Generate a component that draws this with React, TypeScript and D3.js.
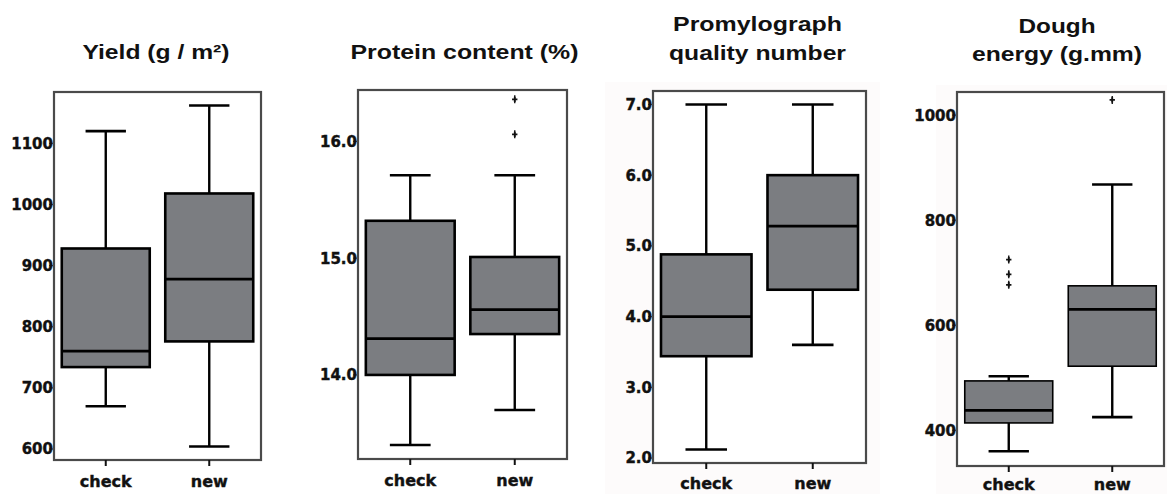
import React, { useEffect, useRef } from "react";
import * as d3 from "d3";

// ---------- data ----------
const categories = ["check", "new"];

// [lower whisker, Q1, median, Q3, upper whisker] for check, new
const yieldStats = [
  [670, 734, 760, 928, 1120],
  [604, 776, 878, 1018, 1162],
];
const yieldOutliers = [[], []];
const yieldTicks = [600, 700, 800, 900, 1000, 1100];

const proteinStats = [
  [13.4, 14.0, 14.31, 15.32, 15.71],
  [13.7, 14.35, 14.56, 15.01, 15.71],
];
const proteinOutliers = [[], [16.06, 16.36]];
const proteinTicks = [14, 15, 16];

const promyloStats = [
  [2.12, 3.44, 4.0, 4.88, 7.0],
  [3.6, 4.38, 5.28, 6.0, 7.0],
];
const promyloOutliers = [[], []];
const promyloTicks = [2, 3, 4, 5, 6, 7];

const doughStats = [
  [360, 414, 438, 494, 503],
  [425, 522, 630, 675, 868],
];
const doughOutliers = [[677, 697, 725], [1029]];
const doughTicks = [400, 600, 800, 1000];

const titles = [
  ["Yield (g / m²)"],
  ["Protein content (%)"],
  ["Promylograph", "quality number"],
  ["Dough", "energy (g.mm)"],
];

// ---------- layout ----------
const panels = [
  { stats: yieldStats, outliers: yieldOutliers, ticks: yieldTicks, fmt: "d", domain: [582, 1184],
    x0: 54, x1: 261, y0: 92, y1: 460, titleX: 156, titleY: [59], titleW: [147], labelY: 487, boxStroke: 2.6 },
  { stats: proteinStats, outliers: proteinOutliers, ticks: proteinTicks, fmt: ".1f", domain: [13.28, 16.44],
    x0: 358, x1: 567, y0: 90, y1: 459, titleX: 464.5, titleY: [59], titleW: [228], labelY: 486, boxStroke: 2.6 },
  { stats: promyloStats, outliers: promyloOutliers, ticks: promyloTicks, fmt: ".1f", domain: [1.93, 7.19],
    x0: 653, x1: 866, y0: 91, y1: 463, titleX: 757.5, titleY: [31, 60], titleW: [169, 177], labelY: 489, boxStroke: 2.6 },
  { stats: doughStats, outliers: doughOutliers, ticks: doughTicks, fmt: "d", domain: [332, 1044],
    x0: 957, x1: 1164, y0: 92, y1: 466, titleX: 1057, titleY: [33, 61], titleW: [77, 170], labelY: 490, boxStroke: 1.6 },
];

const BOX_FILL = "#7b7d81";

export default function App() {
  const ref = useRef<SVGSVGElement>(null);

  useEffect(() => {
    const svg = d3.select(ref.current);
    svg.selectAll("*").remove();

    // faint background tints
    svg.append("rect").attr("x", 605).attr("y", 82).attr("width", 275).attr("height", 412).attr("fill", "#fdfbfb");
    svg.append("rect").attr("x", 936).attr("y", 85).attr("width", 231).attr("height", 409).attr("fill", "#fdfbfb");

    panels.forEach((p, pi) => {
      const g = svg.append("g");
      const x = d3.scalePoint<string>().domain(categories).range([p.x0, p.x1]).padding(0.5);
      const y = d3.scaleLinear().domain(p.domain).range([p.y1, p.y0]);
      const step = x.step();
      const boxW = step * 0.85;
      const capW = step * 0.39;

      // frame
      g.append("rect")
        .attr("x", p.x0).attr("y", p.y0)
        .attr("width", p.x1 - p.x0).attr("height", p.y1 - p.y0)
        .attr("fill", "#fff").attr("stroke", "#4a4a4a").attr("stroke-width", 2.2);

      // y axis
      const fmt = d3.format(p.fmt);
      const yTicks = g.append("g");
      p.ticks.forEach((t) => {
        const yy = y(t);
        yTicks.append("line").attr("x1", p.x0 - 5).attr("x2", p.x0).attr("y1", yy).attr("y2", yy)
          .attr("stroke", "#555").attr("stroke-width", 1.2);
        yTicks.append("text").attr("x", p.x0 - 1).attr("y", yy).attr("dy", "0.36em")
          .attr("text-anchor", "end")
          .attr("font-family", "DejaVu Sans").attr("font-weight", "bold").attr("font-size", 15)
          .attr("fill", "#111").attr("stroke", "#111").attr("stroke-width", 0.4).text(fmt(t));
      });

      // x axis
      categories.forEach((c) => {
        const cx = x(c)!;
        g.append("line").attr("x1", cx).attr("x2", cx).attr("y1", p.y1).attr("y2", p.y1 + 6)
          .attr("stroke", "#111").attr("stroke-width", 2);
        g.append("text").attr("x", cx).attr("y", p.labelY).attr("text-anchor", "middle")
          .attr("font-family", "DejaVu Sans").attr("font-weight", "bold").attr("font-size", 16)
          .attr("fill", "#111").attr("stroke", "#111").attr("stroke-width", 0.4).text(c);
      });

      // boxes
      categories.forEach((c, ci) => {
        const [lo, q1, med, q3, hi] = p.stats[ci];
        const cx = x(c)!;
        const bg = g.append("g");
        // whiskers
        bg.append("line").attr("x1", cx).attr("x2", cx).attr("y1", y(hi)).attr("y2", y(q3))
          .attr("stroke", "#000").attr("stroke-width", 2.4);
        bg.append("line").attr("x1", cx).attr("x2", cx).attr("y1", y(q1)).attr("y2", y(lo))
          .attr("stroke", "#000").attr("stroke-width", 2.4);
        [hi, lo].forEach((v) => {
          bg.append("line").attr("x1", cx - capW / 2).attr("x2", cx + capW / 2).attr("y1", y(v)).attr("y2", y(v))
            .attr("stroke", "#000").attr("stroke-width", 2.6);
        });
        // box
        bg.append("rect").attr("x", cx - boxW / 2).attr("y", y(q3))
          .attr("width", boxW).attr("height", y(q1) - y(q3))
          .attr("fill", BOX_FILL).attr("stroke", "#000").attr("stroke-width", p.boxStroke);
        // median
        bg.append("line").attr("x1", cx - boxW / 2).attr("x2", cx + boxW / 2).attr("y1", y(med)).attr("y2", y(med))
          .attr("stroke", "#000").attr("stroke-width", 2.8);
        // outliers
        const cross = d3.symbol().type(d3.symbolCross).size(16);
        p.outliers[ci].forEach((v) => {
          bg.append("path").attr("d", cross()!).attr("transform", `translate(${cx},${y(v)})`).attr("fill", "#111");
          bg.append("line").attr("x1", cx).attr("x2", cx).attr("y1", y(v) - 4).attr("y2", y(v) + 4)
            .attr("stroke", "#111").attr("stroke-width", 1.4);
        });
      });

      // title
      titles[pi].forEach((line, li) => {
        svg.append("text").attr("x", p.titleX).attr("y", p.titleY[li]).attr("text-anchor", "middle")
          .attr("font-family", "Liberation Sans, Arial, sans-serif").attr("font-weight", "bold")
          .attr("font-size", 21).attr("fill", "#111")
          .attr("textLength", p.titleW[li]).attr("lengthAdjust", "spacingAndGlyphs")
          .text(line);
      });
    });
  }, []);

  return (
    <svg ref={ref} width={1167} height={494}
      style={{ position: "absolute", left: 0, top: 0, background: "#fff" }} />
  );
}
